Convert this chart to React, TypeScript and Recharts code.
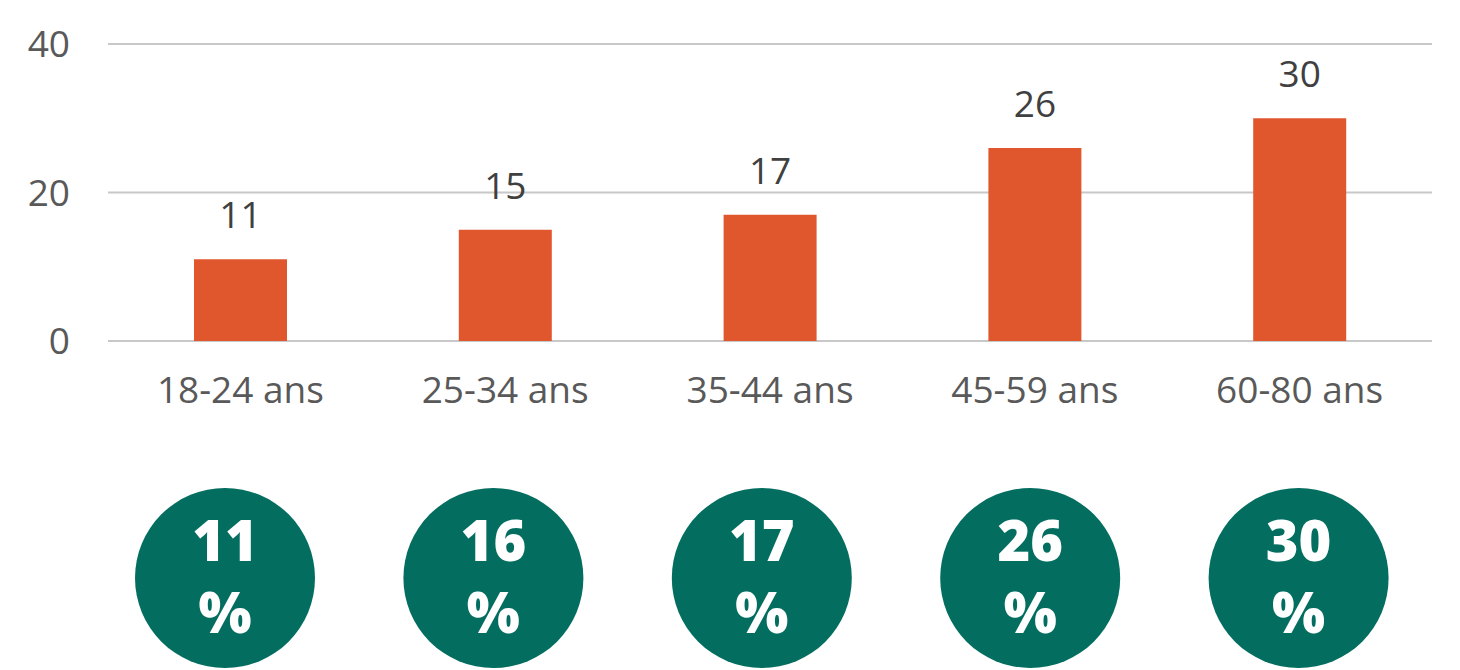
import React from "react";
import { BarChart, Bar, XAxis, YAxis, CartesianGrid, LabelList } from "recharts";

const ageGroups = ["18-24 ans", "25-34 ans", "35-44 ans", "45-59 ans", "60-80 ans"];
const barValues = [11, 15, 17, 26, 30];
const circlePercents = [11, 16, 17, 26, 30];
const yTicks = [0, 20, 40];

const barData = ageGroups.map((age, i) => ({ age, value: barValues[i] }));
const circleData = ageGroups.map((age, i) => ({ age, pct: circlePercents[i] }));

const FONT = "'Open Sans', sans-serif";

const CircleShape = (props: any) => {
  const { x, width, background, payload } = props;
  const cx = x + width / 2;
  const cy = background ? background.y + background.height / 2 : props.y + props.height / 2;
  return (
    <g>
      <circle cx={cx} cy={cy} r={90} fill="#036E5F" />
      <text x={cx} y={cy - 17} textAnchor="middle" fill="#fff" fontFamily={FONT} fontWeight={800} fontSize={56}>
        {payload.pct}
      </text>
      <text x={cx} y={cy + 55} textAnchor="middle" fill="#fff" fontFamily={FONT} fontWeight={800} fontSize={56}>
        %
      </text>
    </g>
  );
};

export default function App() {
  return (
    <div style={{ position: "absolute", left: 0, top: 0, width: 1460, height: 670, background: "#fff", fontFamily: FONT }}>
      <div style={{ position: "absolute", left: 0, top: 0 }}>
        <BarChart width={1460} height={440} data={barData} margin={{ top: 44, right: 28, left: 0, bottom: 0 }} barSize={93}>
          <CartesianGrid vertical={false} stroke="#c8c8c8" strokeWidth={2} />
          <YAxis
            width={108}
            domain={[0, 40]}
            ticks={yTicks}
            axisLine={false}
            tickLine={false}
            tickSize={0}
            tickMargin={38}
            tick={{ fill: "#595959", fontSize: 37, fontFamily: FONT }}
          />
          <XAxis
            dataKey="age"
            axisLine={false}
            tickLine={false}
            tickSize={0}
            tickMargin={36}
            height={99}
            tick={{ fill: "#595959", fontSize: 37, fontFamily: FONT }}
          />
          <Bar dataKey="value" fill="#E0572E" isAnimationActive={false}>
            <LabelList dataKey="value" position="top" offset={31} fill="#404040" fontSize={37} fontFamily={FONT} />
          </Bar>
        </BarChart>
      </div>
      <div style={{ position: "absolute", left: 0, top: 488 }}>
        <BarChart width={1460} height={180} data={circleData} margin={{ top: 0, right: 27, left: 91, bottom: 0 }} barSize={180}>
          <XAxis dataKey="age" hide />
          <YAxis hide domain={[0, 40]} />
          <Bar dataKey="pct" background={{ fill: "transparent" }} shape={CircleShape} isAnimationActive={false} />
        </BarChart>
      </div>
    </div>
  );
}
